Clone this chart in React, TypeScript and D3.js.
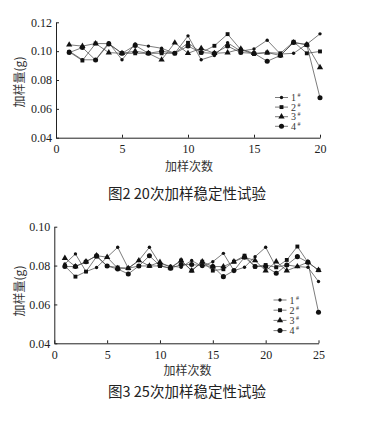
import React, { useEffect, useRef } from "react";
import * as d3 from "d3";

// 图2: 20 runs
const runs20 = [1, 2, 3, 4, 5, 6, 7, 8, 9, 10, 11, 12, 13, 14, 15, 16, 17, 18, 19, 20];
const top1 = [0.1, 0.094, 0.094, 0.1058, 0.094, 0.105, 0.1035, 0.102, 0.0985, 0.1106, 0.094, 0.097, 0.1058, 0.1, 0.1015, 0.1076, 0.098, 0.0985, 0.1048, 0.112];
const top2 = [0.0995, 0.0935, 0.1053, 0.1052, 0.0985, 0.0985, 0.0985, 0.0985, 0.0985, 0.1058, 0.099, 0.1037, 0.1118, 0.101, 0.098, 0.099, 0.0985, 0.1065, 0.0985, 0.0998];
const top3 = [0.1044, 0.1035, 0.1053, 0.099, 0.0985, 0.1, 0.0985, 0.094, 0.1058, 0.0985, 0.102, 0.0985, 0.099, 0.1015, 0.0985, 0.099, 0.097, 0.106, 0.1045, 0.0887];
const top4 = [0.099, 0.1025, 0.0938, 0.105, 0.0985, 0.104, 0.0985, 0.1, 0.0985, 0.1035, 0.099, 0.0985, 0.1035, 0.099, 0.0985, 0.093, 0.097, 0.106, 0.1045, 0.0677];
const topYTicks = [0.04, 0.06, 0.08, 0.1, 0.12];
const topXTicks = [0, 5, 10, 15, 20];

// 图3: 25 runs
const runs25 = [1, 2, 3, 4, 5, 6, 7, 8, 9, 10, 11, 12, 13, 14, 15, 16, 17, 18, 19, 20, 21, 22, 23, 24, 25];
const bot1 = [0.0808, 0.086, 0.0769, 0.079, 0.0843, 0.0894, 0.0786, 0.0826, 0.0894, 0.0808, 0.0798, 0.0791, 0.0826, 0.0795, 0.082, 0.0863, 0.0774, 0.0791, 0.0846, 0.0894, 0.0791, 0.0803, 0.0795, 0.0791, 0.0718];
const bot2 = [0.0798, 0.0743, 0.0769, 0.0846, 0.0798, 0.079, 0.0786, 0.0798, 0.0798, 0.0798, 0.0786, 0.0826, 0.0774, 0.082, 0.0774, 0.0781, 0.082, 0.0851, 0.0795, 0.0803, 0.0791, 0.0829, 0.0898, 0.0817, 0.0776];
const bot3 = [0.0838, 0.0795, 0.082, 0.0851, 0.0843, 0.0786, 0.0786, 0.0826, 0.0798, 0.0818, 0.079, 0.0826, 0.0774, 0.082, 0.0795, 0.0795, 0.082, 0.0843, 0.0826, 0.0773, 0.082, 0.0774, 0.0795, 0.0817, 0.0776];
const bot4 = [0.0795, 0.0795, 0.082, 0.0851, 0.0798, 0.0782, 0.0757, 0.0798, 0.085, 0.08, 0.0786, 0.0805, 0.0805, 0.08, 0.0795, 0.0743, 0.0774, 0.0843, 0.0795, 0.0795, 0.076, 0.0803, 0.0846, 0.0817, 0.056];
const botYTicks = [0.04, 0.06, 0.08, 0.1];
const botXTicks = [0, 5, 10, 15, 20, 25];

const seriesNames = ["1", "2", "3", "4"];
const symbolTypes = [d3.symbolCircle, d3.symbolSquare, d3.symbolTriangle, d3.symbolCircle];
const symbolSizes = [9, 15, 17, 20];

type PanelProps = {
  xs: number[];
  series: number[][];
  xMax: number;
  yTicks: number[];
  xTicks: number[];
  left: number;
  right: number;
  top: number;
  bottom: number;
  legendX: number;
  legendY: number;
  legendStep: number;
  yLabelY: number;
  xLabelY: number;
  caption: string;
  captionY: number;
};

function Panel(p: PanelProps) {
  const ref = useRef<SVGGElement>(null);

  useEffect(() => {
    const g = d3.select(ref.current);
    g.selectAll("*").remove();

    const x = d3.scaleLinear().domain([0, p.xMax]).range([p.left, p.right]);
    const y = d3
      .scaleLinear()
      .domain([p.yTicks[0], p.yTicks[p.yTicks.length - 1]])
      .range([p.bottom, p.top]);

    // axes, ticks pointing inward
    const ya = g
      .append("g")
      .attr("transform", `translate(${p.left},0)`)
      .call(
        d3.axisLeft(y).tickValues(p.yTicks).tickFormat(d3.format(".2f")).tickSizeInner(-3).tickSizeOuter(0).tickPadding(4)
      );
    const xa = g
      .append("g")
      .attr("transform", `translate(0,${p.bottom})`)
      .call(d3.axisBottom(x).tickValues(p.xTicks).tickSizeInner(-3).tickSizeOuter(0).tickPadding(7));
    [ya, xa].forEach((a) => {
      a.selectAll("text").attr("font-family", "'Liberation Serif', serif").attr("font-size", 12).attr("fill", "#222");
      a.selectAll("path,line").attr("stroke", "#222").attr("stroke-width", 1);
    });

    const line = d3
      .line<number>()
      .x((_, i) => x(p.xs[i]))
      .y((d) => y(d));

    p.series.forEach((vals, si) => {
      g.append("path")
        .attr("d", line(vals))
        .attr("fill", "none")
        .attr("stroke", "#444")
        .attr("stroke-width", 0.7);
    });
    p.series.forEach((vals, si) => {
      const sym = d3.symbol().type(symbolTypes[si]).size(symbolSizes[si]);
      g.selectAll(null)
        .data(vals)
        .enter()
        .append("path")
        .attr("d", sym())
        .attr("transform", (d, i) => `translate(${x(p.xs[i])},${y(d)})`)
        .attr("fill", "#111");
    });

    // legend
    seriesNames.forEach((name, si) => {
      const ly = p.legendY + si * p.legendStep;
      g.append("line")
        .attr("x1", p.legendX)
        .attr("x2", p.legendX + 13)
        .attr("y1", ly)
        .attr("y2", ly)
        .attr("stroke", "#444")
        .attr("stroke-width", 0.7);
      g.append("path")
        .attr("d", d3.symbol().type(symbolTypes[si]).size(symbolSizes[si])())
        .attr("transform", `translate(${p.legendX + 6.5},${ly})`)
        .attr("fill", "#111");
      const t = g
        .append("text")
        .attr("x", p.legendX + 16)
        .attr("y", ly + 3.5)
        .attr("font-family", "'Liberation Serif', serif")
        .attr("font-size", 10)
        .attr("fill", "#333");
      t.append("tspan").text(name);
      t.append("tspan").attr("dx", 1.5).attr("dy", -4).attr("font-size", 6).text("#");
    });

    // labels
    g.append("text")
      .attr("transform", `translate(24,${p.yLabelY}) rotate(-90)`)
      .attr("text-anchor", "middle")
      .attr("font-family", "'Noto Sans CJK SC', sans-serif")
      .attr("font-size", 12)
      .attr("fill", "#333")
      .text("加样量(g)");
    g.append("text")
      .attr("x", (p.left + p.right) / 2 + 1)
      .attr("y", p.xLabelY)
      .attr("text-anchor", "middle")
      .attr("font-family", "'Noto Sans CJK SC', sans-serif")
      .attr("font-size", 12)
      .attr("fill", "#333")
      .text("加样次数");
    g.append("text")
      .attr("x", 108)
      .attr("y", p.captionY)
      .attr("font-family", "'Noto Sans CJK SC', sans-serif")
      .attr("font-size", 14.5)
      .attr("fill", "#222")
      .text(p.caption);
  }, []);

  return <g ref={ref} />;
}

export default function App() {
  return (
    <svg width={390} height={426} style={{ position: "absolute", left: 0, top: 0, background: "#fff" }}>
      <Panel
        xs={runs20}
        series={[top1, top2, top3, top4]}
        xMax={20}
        yTicks={topYTicks}
        xTicks={topXTicks}
        left={56}
        right={320}
        top={22.3}
        bottom={137.7}
        legendX={275}
        legendY={97.5}
        legendStep={9.6}
        yLabelY={82}
        xLabelY={171}
        caption="图2 20次加样稳定性试验"
        captionY={198.5}
      />
      <Panel
        xs={runs25}
        series={[bot1, bot2, bot3, bot4]}
        xMax={25}
        yTicks={botYTicks}
        xTicks={botXTicks}
        left={54.3}
        right={318.5}
        top={226.7}
        bottom={343.3}
        legendX={273.5}
        legendY={300}
        legendStep={10.2}
        yLabelY={291}
        xLabelY={374.5}
        caption="图3 25次加样稳定性试验"
        captionY={397}
      />
    </svg>
  );
}
